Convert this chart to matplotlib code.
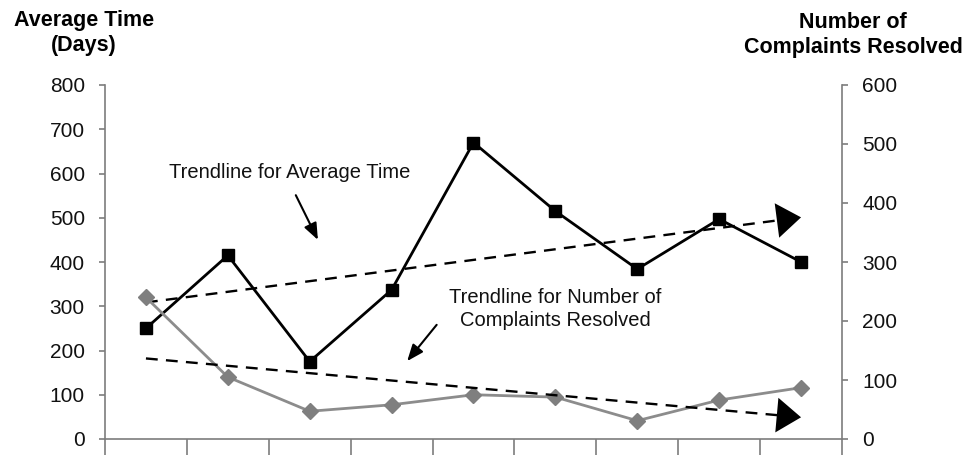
import numpy as np
import matplotlib.pyplot as plt

plt.rcParams['font.family'] = ['Liberation Sans', 'DejaVu Sans']

# values
periods = ['1', '2', '3', '4', '5', '6', '7', '8', '9']
avg_time = [250, 415, 175, 337, 670, 515, 384, 497, 400]
complaints = [240, 105, 47, 58, 75, 71, 31, 66, 87]
left_ticks = [0, 100, 200, 300, 400, 500, 600, 700, 800]
right_ticks = [0, 100, 200, 300, 400, 500, 600]

grey = '#7d7d7d'
x = np.arange(len(periods))

fig = plt.figure(figsize=(9.75, 4.55), dpi=100)
ax = fig.add_axes([105 / 975, 16 / 455, 737 / 975, 354 / 455])
ax2 = ax.twinx()

ax.set_xlim(-0.5, len(periods) - 0.5)
ax.set_ylim(0, 800)
ax2.set_ylim(0, 600)

# series
ax2.plot(x, complaints, color='#8c8c8c', lw=2.0, marker='D', ms=8,
         mfc='#7f7f7f', mec='#7f7f7f', zorder=3)
ax.plot(x, avg_time, color='black', lw=2.0, marker='s', ms=8, zorder=4)


def trend(axis, vals):
    k, b = np.polyfit(x, vals, 1)
    y0, y1 = b, k * x[-1] + b
    # dashed part stops under the arrow head
    xe = x[-1] - 0.21
    axis.plot([x[0], xe], [y0, k * xe + b], color='black', lw=1.7,
              dashes=(5, 3.5), zorder=5)
    axis.annotate('', xy=(x[-1], y1), xytext=(xe, k * xe + b),
                  arrowprops=dict(arrowstyle='-|>,head_length=0.7,head_width=0.5',
                                  mutation_scale=25, color='black', lw=0,
                                  shrinkA=0, shrinkB=0), zorder=6)


trend(ax, avg_time)
trend(ax2, complaints)

# callouts
ax.text(1.76, 603, 'Trendline for Average Time', ha='center', va='center',
        fontsize=14.5, color='#111111')
ax.annotate('', xy=(2.10, 450), xytext=(1.83, 551),
            arrowprops=dict(arrowstyle='-|>,head_length=0.5,head_width=0.2',
                            mutation_scale=20, color='black', lw=1.5,
                            shrinkA=0, shrinkB=0))
ax.text(5.0, 294, 'Trendline for Number of\nComplaints Resolved', ha='center',
        va='center', fontsize=14.5, color='#111111', linespacing=1.25)
ax.annotate('', xy=(3.19, 176), xytext=(3.55, 258),
            arrowprops=dict(arrowstyle='-|>,head_length=0.5,head_width=0.2',
                            mutation_scale=20, color='black', lw=1.5,
                            shrinkA=0, shrinkB=0))

# axes styling
for a in (ax, ax2):
    a.spines['top'].set_visible(False)
    for s in ('left', 'right', 'bottom'):
        a.spines[s].set_color(grey)
        a.spines[s].set_linewidth(1.2)
ax.spines['right'].set_visible(False)
ax2.spines['left'].set_visible(False)
ax2.spines['bottom'].set_visible(False)

ax.set_yticks(left_ticks)
ax2.set_yticks(right_ticks)
ax.tick_params(axis='y', length=4.5, width=1.2, color=grey, pad=10,
               labelsize=15, labelcolor='#111111')
ax2.tick_params(axis='y', length=4.5, width=1.2, color=grey, pad=10,
                labelsize=15, labelcolor='#111111')

ax.set_xticks(np.arange(-0.5, len(periods), 1.0))
ax.set_xticklabels([])
ax.tick_params(axis='x', length=20, width=1.2, color=grey)

fig.text(84 / 975, 1 - 33 / 455, 'Average Time\n(Days)', ha='center', va='center',
         fontsize=15.5, fontweight='bold', linespacing=1.3)
fig.text(853 / 975, 1 - 35 / 455, 'Number of\nComplaints Resolved', ha='center',
         va='center', fontsize=15.5, fontweight='bold', linespacing=1.3)

fig.savefig('out.png', dpi=100)
